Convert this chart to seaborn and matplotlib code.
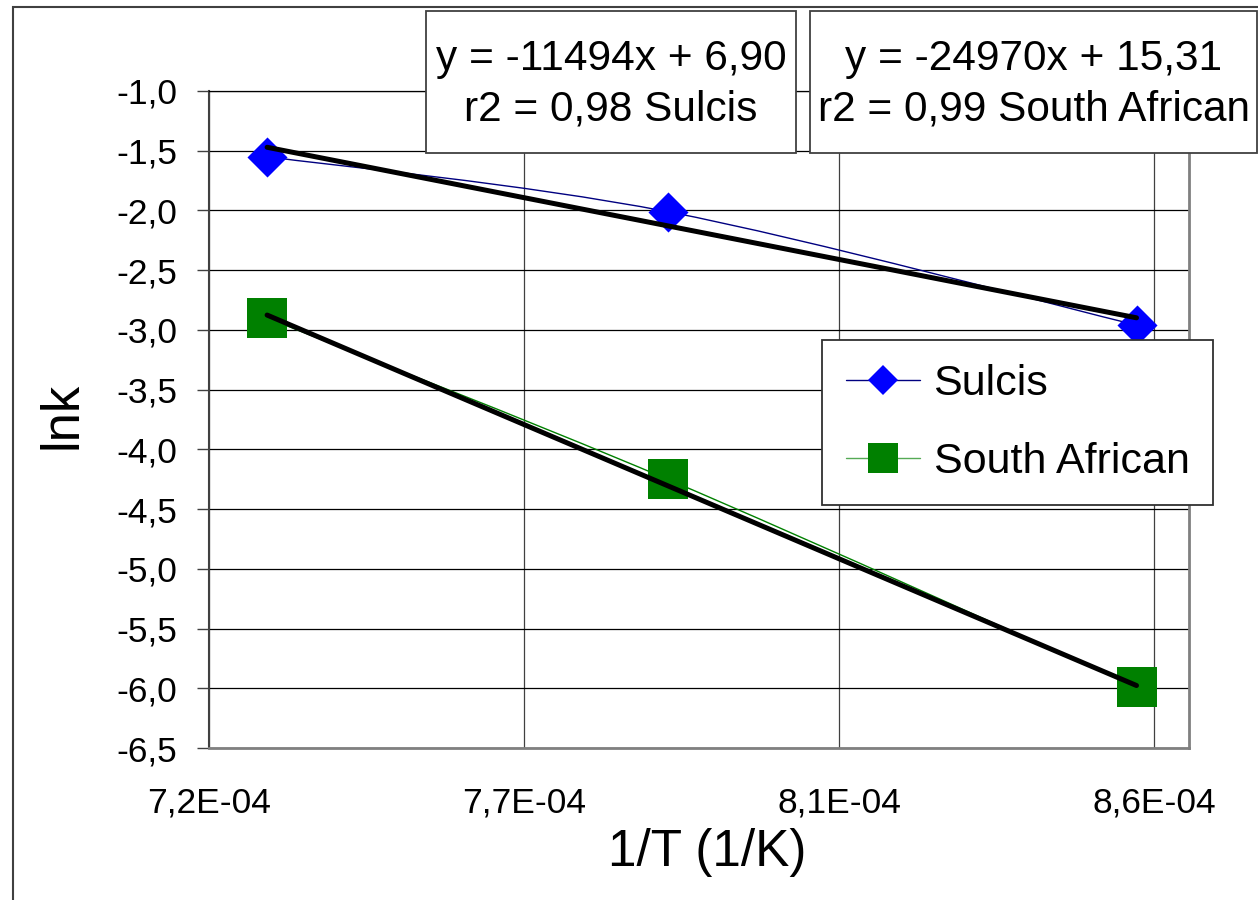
import numpy as np
import pandas as pd
import matplotlib
matplotlib.use("Agg")
import matplotlib.pyplot as plt
import seaborn as sns
from matplotlib.path import Path
from matplotlib.patches import PathPatch, Rectangle
from matplotlib.lines import Line2D
from matplotlib.ticker import FuncFormatter, FixedLocator

# ---------------- data ----------------
inv_T = [7.283e-4, 7.855e-4, 8.525e-4]
lnk_sulcis = [-1.55, -2.01, -2.96]
lnk_south_african = [-2.90, -4.25, -5.99]
series_names = ["Sulcis", "South African"]
fit_slopes = [-11494, -24970]
fit_intercepts = [6.90, 15.31]
fit_r2 = [0.98, 0.99]
x_tick_values = [7.2e-4, 7.65e-4, 8.1e-4, 8.55e-4]
x_tick_labels = ["7,2E-04", "7,7E-04", "8,1E-04", "8,6E-04"]
y_tick_values = [-6.5, -6.0, -5.5, -5.0, -4.5, -4.0, -3.5, -3.0, -2.5, -2.0, -1.5, -1.0]

sns.set_theme(style="white")
plt.rcParams['font.family'] = ['Liberation Sans', 'DejaVu Sans']
plt.rcParams['text.color'] = 'black'
plt.rcParams['axes.labelcolor'] = 'black'
plt.rcParams['xtick.color'] = 'black'
plt.rcParams['ytick.color'] = 'black'

W, H = 1258, 900
fig = plt.figure(figsize=(W / 100, H / 100), dpi=100)
fig.patch.set_facecolor("white")
ax = fig.add_axes([209 / W, 1 - 748 / H, (1189 - 209) / W, (748 - 91) / H])
ax.set_facecolor("white")

colors_line = ["#000080", "#008000"]
colors_mark = ["#0000FF", "#008000"]
markers = ["D", "s"]
sizes = [20.4, 28.8]
ys_all = [lnk_sulcis, lnk_south_african]


def smooth_path(xs, ys):
    pts = np.column_stack([xs, ys]).astype(float)
    n = len(pts)
    verts = [pts[0]]
    codes = [Path.MOVETO]
    for i in range(n - 1):
        p0 = pts[max(i - 1, 0)]
        p1 = pts[i]
        p2 = pts[i + 1]
        p3 = pts[min(i + 2, n - 1)]
        c1 = p1 + (p2 - p0) / 6.0
        c2 = p2 - (p3 - p1) / 6.0
        verts += [c1, c2, p2]
        codes += [Path.CURVE4] * 3
    return Path(verts, codes)


for i, ys in enumerate(ys_all):
    # thin smoothed series line
    ax.add_patch(PathPatch(smooth_path(inv_T, ys), fill=False,
                           edgecolor=colors_line[i], lw=1.0, zorder=2))
    # markers
    df = pd.DataFrame({"x": inv_T, "y": ys})
    sns.scatterplot(data=df, x="x", y="y", marker=markers[i], s=sizes[i] ** 2,
                    color=colors_mark[i], linewidth=0, ax=ax, zorder=3,
                    legend=False)
    # linear trend line
    xt = [min(inv_T), max(inv_T)]
    yt = [fit_slopes[i] * v + fit_intercepts[i] for v in xt]
    sns.lineplot(x=xt, y=yt, color="black", lw=3.6, ax=ax, zorder=4,
                 legend=False, solid_capstyle="round")

ax.set_xlim(7.2e-4, 8.6e-4)
ax.set_ylim(-6.5, -1.0)
ax.xaxis.set_major_locator(FixedLocator(x_tick_values))
ax.set_xticklabels(x_tick_labels)
ax.yaxis.set_major_locator(FixedLocator(y_tick_values))
ax.yaxis.set_major_formatter(FuncFormatter(lambda v, _: f"{v:.1f}".replace(".", ",")))

ax.grid(True, axis="y", color="black", lw=0.9)
ax.grid(True, axis="x", color="#404040", lw=0.9)
ax.set_axisbelow(True)

ax.tick_params(axis="y", which="major", direction="out", length=8.6, width=1.0,
               color="#404040", pad=14, labelsize=25.5, left=True,
               labelcolor="black")
ax.tick_params(axis="x", which="major", length=0, pad=28, labelsize=25.5,
               labelcolor="black")

ax.spines["left"].set_color("#404040")
ax.spines["left"].set_linewidth(1.5)
for s in ["bottom", "right"]:
    ax.spines[s].set_color("#808080")
    ax.spines[s].set_linewidth(2.0)
ax.spines["top"].set_color("black")
ax.spines["top"].set_linewidth(0.9)

ax.set_xlabel("1/T (1/K)", fontsize=37, color="black")
ax.set_ylabel("lnk", fontsize=38, color="black")
ax.xaxis.set_label_coords((707 - 209) / 980, (748 - 828) / 657)
ax.yaxis.set_label_coords((88 - 209) / 980, (748 - 415) / 657)

# legend
handles = [
    Line2D([], [], color=colors_line[0], lw=1.0, marker="D", ms=15.3,
           mfc=colors_mark[0], mec=colors_mark[0], mew=0),
    Line2D([], [], color="#55AA55", lw=1.0, marker="s", ms=21.6,
           mfc=colors_mark[1], mec=colors_mark[1], mew=0),
]
leg = fig.legend(handles, series_names, loc="upper left",
                 bbox_to_anchor=(822 / W, 1 - 340 / H), fontsize=31,
                 frameon=True, fancybox=False, shadow=False,
                 handlelength=1.72, handletextpad=0.32, borderpad=0.55,
                 labelspacing=0.88, borderaxespad=0)
leg.get_frame().set_edgecolor("#303030")
leg.get_frame().set_linewidth(1.3)
leg.get_frame().set_alpha(1)
for t in leg.get_texts():
    t.set_color("black")

# trendline equation boxes
boxes = [(426, 796), (810, 1257)]
for i, (x0, x1) in enumerate(boxes):
    fig.add_artist(Rectangle((x0 / W, 1 - 153 / H), (x1 - x0) / W, (153 - 11) / H,
                             transform=fig.transFigure, facecolor="white",
                             edgecolor="#404040", lw=1.3, zorder=6))
    cx = (x0 + x1) / 2 / W
    line1 = f"y = {fit_slopes[i]}x + {fit_intercepts[i]:.2f}".replace(".", ",")
    line2 = f"r2 = {fit_r2[i]:.2f}".replace(".", ",") + f" {series_names[i]}"
    fig.text(cx, 1 - 59 / H, line1, ha="center", va="center", fontsize=30.5,
             color="black", zorder=7)
    fig.text(cx, 1 - 109 / H, line2, ha="center", va="center", fontsize=30.5,
             color="black", zorder=7)

# chart area border
fig.add_artist(Rectangle((13 / W, -0.1), 1.2, (1 - 7 / H) + 0.1,
                         transform=fig.transFigure, fill=False,
                         edgecolor="#404040", lw=1.5, zorder=0))

fig.savefig("out.png", dpi=100, facecolor="white")
